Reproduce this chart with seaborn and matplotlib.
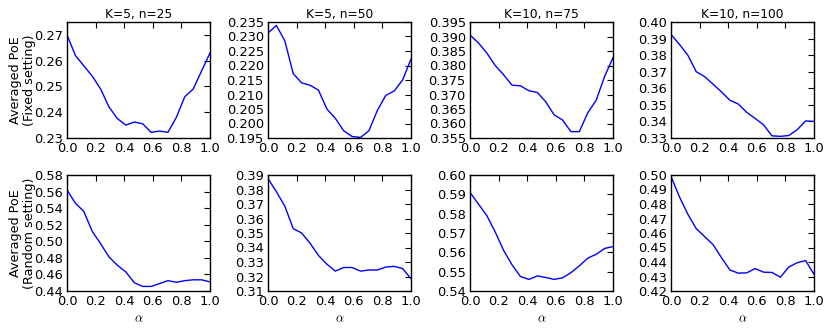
import matplotlib
matplotlib.use("Agg")
import matplotlib.pyplot as plt
import seaborn as sns
import pandas as pd

alpha = [0.0, 0.0588, 0.1176, 0.1765, 0.2353, 0.2941, 0.3529, 0.4118, 0.4706,
         0.5294, 0.5882, 0.6471, 0.7059, 0.7647, 0.8235, 0.8824, 0.9412, 1.0]

titles = ["K=5, n=25", "K=5, n=50", "K=10, n=75", "K=10, n=100"]

fixed_k5_n25 = [0.270, 0.262, 0.258, 0.254, 0.249, 0.242, 0.2375, 0.235, 0.2362,
                0.2355, 0.2322, 0.2327, 0.2322, 0.238, 0.246, 0.249, 0.256, 0.263]
fixed_k5_n50 = [0.2312, 0.2338, 0.2285, 0.2172, 0.2140, 0.2132, 0.2115, 0.2050, 0.2018,
                0.1975, 0.1955, 0.1952, 0.1975, 0.2045, 0.2097, 0.2112, 0.2150, 0.2222]
fixed_k10_n75 = [0.3905, 0.3878, 0.3843, 0.3800, 0.3768, 0.3732, 0.3730, 0.3713, 0.3707,
                 0.3675, 0.3630, 0.3612, 0.3572, 0.3572, 0.3637, 0.3680, 0.3762, 0.3827]
fixed_k10_n100 = [0.3925, 0.3865, 0.3800, 0.3700, 0.3670, 0.3625, 0.3578, 0.3528, 0.3505,
                  0.3455, 0.3418, 0.3380, 0.3313, 0.3310, 0.3315, 0.3350, 0.3403, 0.3400]

random_k5_n25 = [0.562, 0.546, 0.536, 0.512, 0.497, 0.481, 0.471, 0.463, 0.450,
                 0.4455, 0.4455, 0.449, 0.4525, 0.4505, 0.4525, 0.4535, 0.4535, 0.451]
random_k5_n50 = [0.3875, 0.3785, 0.3685, 0.3530, 0.3500, 0.3430, 0.3345, 0.3285, 0.3237,
                 0.3262, 0.3262, 0.3237, 0.3245, 0.3245, 0.3265, 0.3270, 0.3255, 0.3185]
random_k10_n75 = [0.5910, 0.5850, 0.5790, 0.5705, 0.5610, 0.5535, 0.5475, 0.5460, 0.5478,
                  0.5470, 0.5460, 0.5468, 0.5495, 0.5530, 0.5570, 0.5590, 0.5620, 0.5630]
random_k10_n100 = [0.4990, 0.4850, 0.4730, 0.4630, 0.4575, 0.4520, 0.4430, 0.4345, 0.4323,
                   0.4325, 0.4355, 0.4330, 0.4328, 0.4295, 0.4365, 0.4395, 0.4410, 0.4315]

fixed = [fixed_k5_n25, fixed_k5_n50, fixed_k10_n75, fixed_k10_n100]
random_ = [random_k5_n25, random_k5_n50, random_k10_n75, random_k10_n100]

ylims_fixed = [(0.23, 0.275), (0.195, 0.235), (0.355, 0.395), (0.33, 0.40)]
yticks_fixed = [[0.23, 0.24, 0.25, 0.26, 0.27],
                [0.195, 0.200, 0.205, 0.210, 0.215, 0.220, 0.225, 0.230, 0.235],
                [0.355, 0.360, 0.365, 0.370, 0.375, 0.380, 0.385, 0.390, 0.395],
                [0.33, 0.34, 0.35, 0.36, 0.37, 0.38, 0.39, 0.40]]
ylims_random = [(0.44, 0.58), (0.31, 0.39), (0.54, 0.60), (0.42, 0.50)]
yticks_random = [[0.44, 0.46, 0.48, 0.50, 0.52, 0.54, 0.56, 0.58],
                 [0.31, 0.32, 0.33, 0.34, 0.35, 0.36, 0.37, 0.38, 0.39],
                 [0.54, 0.55, 0.56, 0.57, 0.58, 0.59, 0.60],
                 [0.42, 0.43, 0.44, 0.45, 0.46, 0.47, 0.48, 0.49, 0.50]]
fmt_fixed = ["%.2f", "%.3f", "%.3f", "%.2f"]
fmt_random = ["%.2f", "%.2f", "%.2f", "%.2f"]
xticks = [0.0, 0.2, 0.4, 0.6, 0.8, 1.0]

sns.set_style("white")
plt.rcParams.update({
    "font.family": ["DejaVu Sans"],
    "mathtext.fontset": "cm",
    "xtick.direction": "in", "ytick.direction": "in",
    "xtick.top": True, "ytick.right": True,
    "xtick.major.size": 4, "ytick.major.size": 4,
    "xtick.major.width": 0.8, "ytick.major.width": 0.8,
    "axes.edgecolor": "black", "axes.linewidth": 1.0,
    "xtick.color": "black", "ytick.color": "black",
    "axes.labelcolor": "black", "text.color": "black",
})

FS = 8.8
fig, axes = plt.subplots(2, 4, figsize=(8.3, 3.32), dpi=100)
lefts = [67, 268, 470, 671]
width = 143
for r, (data, ylims, yticks, fmts) in enumerate([(fixed, ylims_fixed, yticks_fixed, fmt_fixed),
                                                 (random_, ylims_random, yticks_random, fmt_random)]):
    top = [22, 175][r]
    bottom = [138, 291][r]
    for c in range(4):
        ax = axes[r, c]
        ax.set_position([lefts[c] / 830, 1 - bottom / 332, width / 830, (bottom - top) / 332])
        df = pd.DataFrame({"alpha": alpha, "poe": data[c]})
        sns.lineplot(data=df, x="alpha", y="poe", ax=ax, color="#0000ff", linewidth=1.0)
        ax.set_xlim(0, 1)
        ax.set_ylim(*ylims[c])
        ax.set_xticks(xticks)
        ax.set_xticklabels(["%.1f" % v for v in xticks], fontsize=FS + 0.6)
        ax.set_yticks(yticks[c])
        ax.set_yticklabels([fmts[c] % v for v in yticks[c]], fontsize=FS + 0.6)
        ax.tick_params(axis="both", pad=3)
        ax.set_ylabel("")
        ax.set_xlabel("")
        for s in ax.spines.values():
            s.set_visible(True)
            s.set_color("black")
        if r == 0:
            ax.set_title(titles[c], fontsize=FS, pad=3)
        else:
            ax.set_xlabel(r"$\alpha$", fontsize=9, labelpad=3)
        if c == 0:
            ax.set_ylabel("Averaged PoE\n(Fixed setting)" if r == 0 else "Averaged PoE\n(Random setting)",
                          fontsize=9.2, linespacing=1.1)
            ax.yaxis.set_label_coords(-0.22, 0.5)

fig.savefig("out.png", dpi=100)
